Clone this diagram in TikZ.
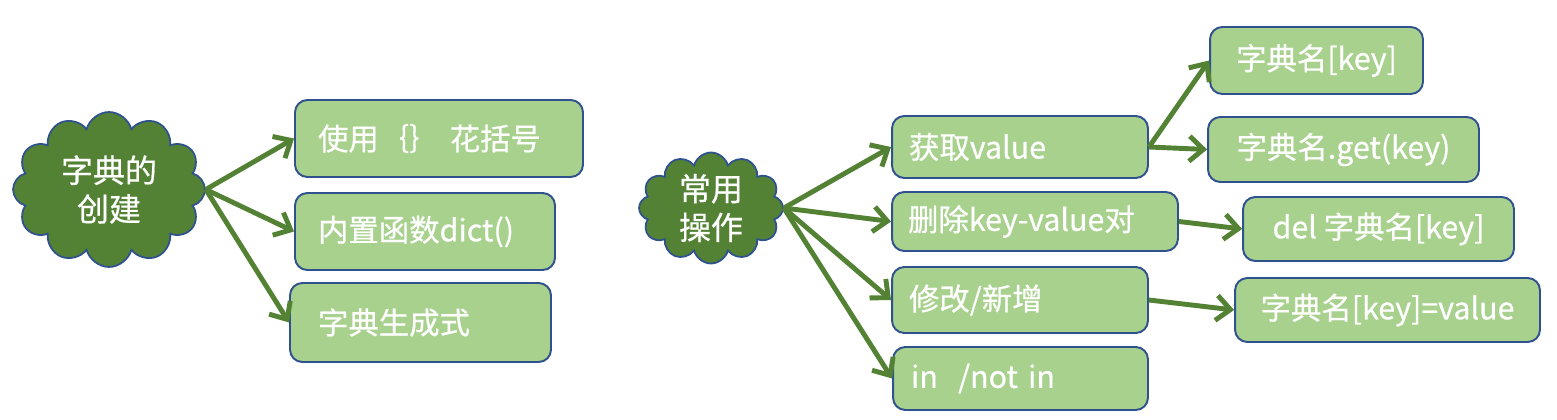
\documentclass[tikz,border=0pt]{standalone}
\usepackage{fontspec}
\setmainfont{Noto Sans CJK SC}[FakeBold=0.6]
\usetikzlibrary{shapes.symbols,arrows.meta}
\definecolor{leafgreen}{HTML}{A9D18E}
\definecolor{darkgreen}{HTML}{548235}
\definecolor{edgeblue}{HTML}{2F528F}
\begin{document}
\begin{tikzpicture}[x=0.02cm, y=-0.02cm,
    every node/.style={text=white, font=\fontsize{17.3}{21.5}\selectfont},
    topic/.style={cloud, cloud puffs=12, cloud ignores aspect, draw=edgeblue, line width=1pt, fill=darkgreen, inner sep=0pt, align=center, font=\fontsize{18.2}{22}\selectfont},
    opbox/.style={draw=edgeblue, line width=1.1pt, fill=leafgreen, rounded corners=7pt, align=left},
    resbox/.style={opbox, align=center, inner xsep=0pt},
    link/.style={line width=2.8pt, darkgreen, -{Straight Barb[length=2.8mm,width=5mm]}}]
  \useasboundingbox (0,0) rectangle (1557,419);
  \node[topic, minimum width=3.84cm, minimum height=3.1cm] (create) at (109,189.5) {字典的\\创建};
  \node[opbox, text width=4.84cm, inner xsep=0.46cm, minimum height=1.54cm] (brace) at (439,138.5) {使用｛｝ 花括号};
  \node[opbox, text width=4.28cm, inner xsep=0.46cm, minimum height=1.54cm] (builtin) at (425,231.5) {内置函数dict()};
  \node[opbox, text width=4.10cm, inner xsep=0.56cm, minimum height=1.58cm] (compr) at (420.5,322.5) {字典生成式};
  \foreach \t in {brace,builtin,compr} \draw[link] (create.east) -- (\t.west);

  \node[topic, minimum width=2.88cm, minimum height=2.2cm] (ops) at (711,208) {常用\\操作};
  \node[opbox, text width=4.44cm, inner xsep=0.34cm, minimum height=1.24cm] (fetch) at (1020,147) {获取value};
  \node[opbox, text width=5.08cm, inner xsep=0.32cm, minimum height=1.18cm] (remove) at (1035,221.5) {删除key-value对};
  \node[opbox, text width=4.44cm, inner xsep=0.34cm, minimum height=1.32cm] (modify) at (1020,300) {修改/新增};
  \node[opbox, text width=4.38cm, inner xsep=0.36cm, minimum height=1.26cm] (member) at (1020.5,378.5) {in~~/not in};
  \foreach \t in {fetch,remove,modify,member} \draw[link] (ops.east) -- (\t.west);

  \node[resbox, minimum width=4.26cm, minimum height=1.34cm] (index) at (1316.5,60.5) {字典名[key]};
  \node[resbox, minimum width=5.42cm, minimum height=1.30cm] (getkey) at (1343.5,149.5) {字典名.get(key)};
  \node[resbox, minimum width=5.42cm, minimum height=1.28cm] (delkey) at (1378.5,229) {del 字典名[key]};
  \node[resbox, minimum width=6.10cm, minimum height=1.28cm] (setkey) at (1387.5,310) {字典名[key]=value};
  \draw[link] (fetch.east) -- (index.west);
  \draw[link] (fetch.east) -- (getkey.west);
  \draw[link] (remove.east) -- (delkey.west);
  \draw[link] (modify.east) -- (setkey.west);
\end{tikzpicture}
\end{document}
